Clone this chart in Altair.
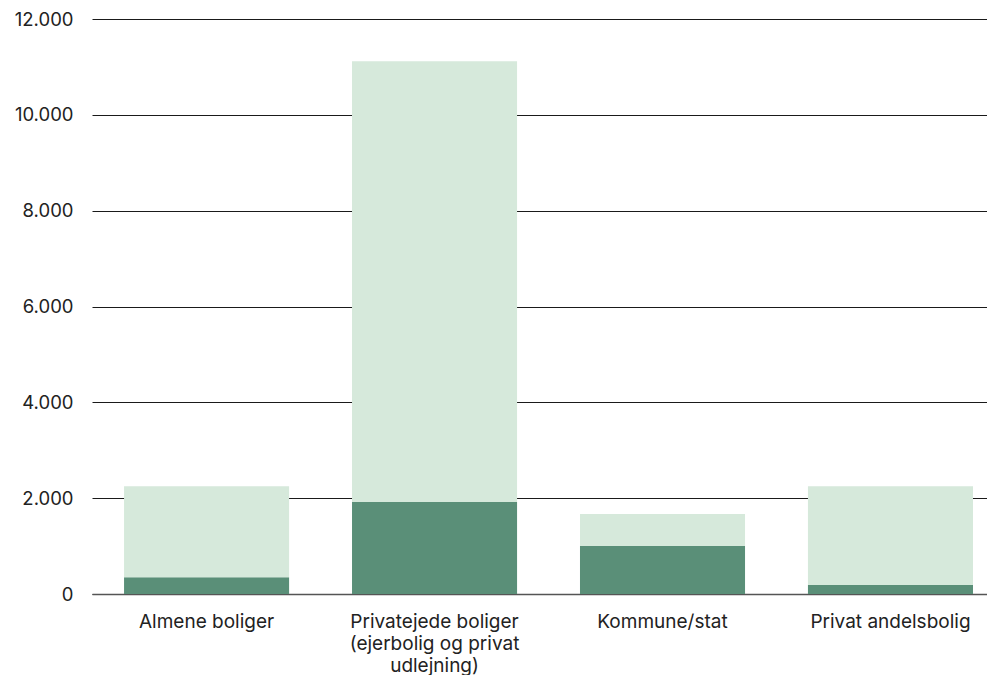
import altair as alt
import pandas as pd

# Housing categories and the two stacked components (dark lower part, light upper part)
categories = [
    "Almene boliger",
    "Privatejede boliger (ejerbolig og privat udlejning)",
    "Kommune/stat",
    "Privat andelsbolig",
]
lower_values = [350, 1920, 1000, 190]
upper_values = [1900, 9200, 670, 2060]
y_ticks = [0, 2000, 4000, 6000, 8000, 10000, 12000]

rows = []
for i, cat in enumerate(categories):
    rows.append({"kategori": cat, "del": "nedre", "antal": lower_values[i], "rk": 0})
    rows.append({"kategori": cat, "del": "øvre", "antal": upper_values[i], "rk": 1})
df = pd.DataFrame(rows)

FONT = "Inter"
TEXT = "#222222"

label_expr = (
    "datum.value == 'Privatejede boliger (ejerbolig og privat udlejning)'"
    " ? ['Privatejede boliger', '(ejerbolig og privat', 'udlejning)'] : datum.value"
)

chart = (
    alt.Chart(df)
    .mark_bar()
    .encode(
        x=alt.X(
            "kategori:N",
            sort=categories,
            scale=alt.Scale(paddingInner=0.276, paddingOuter=0.101, align=0.696),
            axis=alt.Axis(
                title=None,
                labelAngle=0,
                labelExpr=label_expr,
                labelFont=FONT,
                labelFontSize=19,
                labelColor=TEXT,
                labelLineHeight=22,
                labelPadding=18,
                ticks=False,
                domain=True,
                domainColor="#555555",
                domainWidth=1.5,
                grid=False,
            ),
        ),
        y=alt.Y(
            "sum(antal):Q",
            stack="zero",
            scale=alt.Scale(domain=[0, 12000], nice=False),
            axis=alt.Axis(
                title=None,
                values=y_ticks,
                format=",d",
                labelExpr="replace(datum.label, ',', '.')",
                labelFont=FONT,
                labelFontSize=18.5,
                labelColor=TEXT,
                labelPadding=19,
                ticks=False,
                domain=False,
                grid=True,
                gridColor="#1a1a1a",
                gridWidth=1,
            ),
        ),
        color=alt.Color(
            "del:N",
            scale=alt.Scale(domain=["nedre", "øvre"], range=["#5a8f78", "#d6e9db"]),
            legend=None,
        ),
        order=alt.Order("rk:Q", sort="ascending"),
    )
    .properties(
        width=895,
        height=575,
        autosize=alt.AutoSizeParams(type="none"),
        padding={"left": 92, "top": 19, "right": 0, "bottom": 81},
    )
    .configure_view(stroke=None)
)

chart.save("out.html", embed_options={"renderer": "svg", "actions": False})
